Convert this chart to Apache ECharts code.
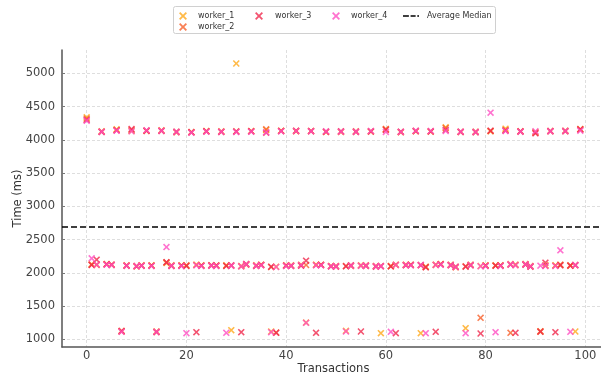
<!DOCTYPE html>
<html>
<head>
<meta charset="utf-8">
<script src="https://cdn.jsdelivr.net/npm/echarts@6/dist/echarts.min.js"></script>
<style>
  html, body { margin: 0; padding: 0; background: #ffffff; }
  #chart { width: 601px; height: 375px; }
</style>
</head>
<body>
<div id="chart"></div>
<script>
// ---- data ----
var workerNames = ['worker_1', 'worker_2', 'worker_3', 'worker_4'];

var worker1 = [4340,2130,2120,4130,2135,2125,4160,1120,2115,4135,
               2105,2115,4140,2115,1120,4145,2150,2115,4120,2115,
               2110,4115,2125,2115,4135,2115,2110,4130,2115,1140,
               5150,2105,2130,4135,2115,2120,4150,1120,2095,4140,
               2110,2115,4130,2125,1255,4135,2125,2120,4125,2105,
               2100,4120,1130,2110,4125,2115,2110,4130,2100,1095,
               4160,2105,2120,4115,2125,2120,4135,1095,2095,4130,
               2120,2135,4190,2125,2085,4120,1170,2125,4120,2105,
               2115,4130,2115,2110,4170,2135,2120,4130,2135,2105,
               4120,1125,2115,4135,2115,2120,4135,2110,1120,4165];

var worker2 = [4320,2125,2125,4125,2130,2120,4150,1130,2110,4150,
               2100,2110,4135,2110,1115,4140,2160,2110,4115,2110,
               2115,4120,2120,2110,4130,2110,2115,4125,2110,2110,
               4130,2100,2125,4130,2110,2125,4160,2090,1105,4135,
               2115,2110,4140,2115,2120,4130,2120,2125,4120,2100,
               2105,4125,2105,2105,4130,2110,2115,4125,2105,2100,
               4165,2100,2125,4120,2120,2125,4130,2120,2090,4125,
               2125,2130,4180,2120,2095,4125,2100,2120,4125,1325,
               2110,4135,2110,2115,4150,1100,2125,4125,2130,2100,
               4110,1115,2110,4130,2110,2125,4140,2115,2120,4155];

var worker3 = [4300,2120,2200,4120,2130,2125,4145,1125,2110,4165,
               2100,2110,4140,2110,1110,4135,2160,2105,4125,2110,
               2105,4115,1110,2110,4130,2115,2110,4120,2105,2115,
               4125,1110,2135,4130,2105,2120,4110,2095,1100,4135,
               2110,2105,4135,2110,2185,4135,1100,2120,4125,2100,
               2095,4130,2100,2115,4120,1120,2105,4130,2095,2105,
               4150,2100,1095,4125,2115,2120,4135,2115,2085,4130,
               1115,2130,4150,2115,2090,4120,2095,2115,4115,1090,
               2110,4140,2110,2110,4140,2125,1100,4130,2125,2095,
               4100,1120,2155,4135,1110,2115,4130,2110,2115,4160];

var worker4 = [4290,2220,2125,4125,2125,2120,4140,1115,2110,4130,
               2105,2110,4145,2105,1115,4140,2390,2110,4120,2105,
               1095,4110,2115,2105,4125,2110,2105,4125,1100,2110,
               4120,2100,2130,4125,2110,2115,4115,1110,2090,4130,
               2105,2110,4135,2120,1250,4130,2115,2115,4130,2100,
               2100,4125,1120,2110,4125,2110,2110,4135,2100,2100,
               4120,1115,2120,4120,2120,2115,4140,2120,1095,4135,
               2120,2125,4135,2120,2090,4125,1095,2120,4120,2100,
               2105,4410,1110,2105,4135,2130,2115,4125,2130,2100,
               4130,2110,2105,4130,2105,2340,4135,1115,2120,4140];

var averageMedian = 2700;

var xTicks = [0, 20, 40, 60, 80, 100];
var yTicks = [1000, 1500, 2000, 2500, 3000, 3500, 4000, 4500, 5000];

var workerColors = ['#FFA91A', '#F8602A', '#F0284C', '#FF4FC3'];

// ---- chart ----
var xShape = 'path://M1.6,0L5,3.4L8.4,0L10,1.6L6.6,5L10,8.4L8.4,10L5,6.6L1.6,10L0,8.4L3.4,5L0,1.6Z';
var dashIcon = 'path://M0,0h7v1.6h-7z M9,0h6v1.6h-6z M17,0h2v1.6h-2z';

var workerData = [worker1, worker2, worker3, worker4];
var series = [];
for (var s = 0; s < workerData.length; s++) {
  var pts = [];
  for (var i = 0; i < workerData[s].length; i++) {
    pts.push([i, workerData[s][i]]);
  }
  series.push({
    name: workerNames[s],
    type: 'scatter',
    symbol: xShape,
    symbolSize: 7,
    data: pts,
    itemStyle: { color: workerColors[s], opacity: 0.8 },
    emphasis: { disabled: true },
    z: 3
  });
}
series.push({
  name: 'Average Median',
  type: 'line',
  data: [],
  color: '#000000',
  itemStyle: { color: '#000000' },
  lineStyle: { color: '#000000' },
  markLine: {
    silent: true,
    symbol: 'none',
    label: { show: false },
    lineStyle: { color: '#000000', type: [6, 3], width: 1.5 },
    data: [{ yAxis: averageMedian }]
  },
  z: 4
});

var fontFam = 'DejaVu Sans';
function legendItem(name, left, top, icon, w, padLeft) {
  return {
    data: [name],
    left: left,
    top: top,
    padding: 0,
    itemWidth: w,
    itemHeight: 8,
    itemGap: 0,
    icon: icon,
    selectedMode: false,
    z: 11,
    textStyle: { fontFamily: fontFam, fontSize: 8, color: '#333333', padding: [0, 0, 0, padLeft] }
  };
}

var chart = echarts.init(document.getElementById('chart'), null, { renderer: 'canvas' });
chart.setOption({
  backgroundColor: '#ffffff',
  animation: false,
  graphic: [{
    type: 'rect',
    left: 173, top: 6,
    shape: { width: 322, height: 27, r: 2 },
    style: { fill: '#ffffff', stroke: '#d0d0d0', lineWidth: 1 },
    z: 10
  }],
  legend: [
    legendItem('worker_1', 179, 12, xShape, 8, 6),
    legendItem('worker_2', 179, 23, xShape, 8, 6),
    legendItem('worker_3', 255, 12, xShape, 8, 7),
    legendItem('worker_4', 332, 12, xShape, 8, 6),
    legendItem('Average Median', 403, 12, dashIcon, 16, 3)
  ],
  grid: { left: 62, top: 50, right: -4, bottom: 28, containLabel: false, outerBoundsMode: 'none' },
  xAxis: {
    type: 'value',
    min: -4.95,
    max: 103.95,
    name: 'Transactions',
    nameLocation: 'middle',
    nameGap: 16,
    nameMoveOverlap: false,
    nameTextStyle: { fontFamily: fontFam, fontSize: 11.5, color: '#333333' },
    axisLine: { show: true, onZero: false, lineStyle: { color: '#555555', width: 1.5 } },
    axisTick: { show: false, customValues: xTicks },
    axisLabel: { customValues: xTicks, fontFamily: fontFam, fontSize: 11.5, color: '#444444', margin: 3 },
    splitLine: { show: true, lineStyle: { color: '#d6d6d6', type: [3, 2], width: 0.8 } }
  },
  yAxis: {
    type: 'value',
    min: 887,
    max: 5353,
    name: 'Time (ms)',
    nameLocation: 'middle',
    nameGap: 38,
    nameRotate: 90,
    nameMoveOverlap: false,
    nameTextStyle: { fontFamily: fontFam, fontSize: 11.5, color: '#333333' },
    axisLine: { show: true, onZero: false, lineStyle: { color: '#555555', width: 1.5 } },
    axisTick: { show: true, inside: true, length: 3, customValues: yTicks, lineStyle: { color: '#777777' } },
    axisLabel: {
      customValues: yTicks, fontFamily: fontFam, fontSize: 11.5, color: '#444444', margin: 7,
      formatter: function (v) { return String(v); }
    },
    splitLine: { show: true, lineStyle: { color: '#d6d6d6', type: [3, 2], width: 0.8 } }
  },
  series: series
});
</script>
</body>
</html>
